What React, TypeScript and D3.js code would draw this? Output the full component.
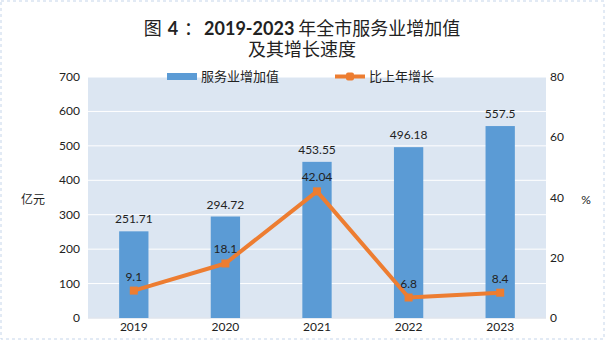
import React from "react";
import * as d3 from "d3";

const categories = ["2019", "2020", "2021", "2022", "2023"];
const valueAdded = [251.71, 294.72, 453.55, 496.18, 557.5];
const growth = [9.1, 18.1, 42.04, 6.8, 8.4];
const leftTicks = [0, 100, 200, 300, 400, 500, 600, 700];
const rightTicks = [0, 20, 40, 60, 80];

const W = 605, H = 340;
const M = { left: 88, right: 546, top: 77, bottom: 318 };
const FONT = "Lato, 'Noto Sans CJK SC', sans-serif";

export default function App() {
  const x = d3.scaleBand<string>().domain(categories).range([M.left, M.right]).paddingInner(0).paddingOuter(0);
  const yL = d3.scaleLinear().domain([0, 700]).range([M.bottom, M.top]);
  const yR = d3.scaleLinear().domain([0, 80]).range([M.bottom, M.top]);
  const bw = x.bandwidth() * 0.32;
  const cx = (c: string) => (x(c) as number) + x.bandwidth() / 2;
  const line = d3.line<number>().x((_, i) => cx(categories[i])).y((d) => yR(d));

  return (
    <svg width={W} height={H} style={{ position: "absolute", left: 0, top: 0, fontFamily: FONT }}>
      <rect x={0} y={0} width={W} height={H} fill="#fff" />
      <rect x={1} y={1} width={W - 2} height={H - 2} fill="none" stroke="#c5d5ea" strokeDasharray="3,3" />
      <text x={302} y={35} textAnchor="middle" fontSize={18} fill="#222">
        <tspan>图</tspan>
        <tspan dx={6} fontWeight="bold">4</tspan>
        <tspan dx={6}>：</tspan>
        <tspan dx={2} fontWeight="bold">2019-2023</tspan>
        <tspan dx={4}>年全市服务业增加值</tspan>
      </text>
      <text x={302} y={56} textAnchor="middle" fontSize={18} fill="#222">
        及其增长速度
      </text>
      <rect x={M.left} y={M.top} width={M.right - M.left} height={M.bottom - M.top} fill="#dce6f2" />
      {leftTicks.map((t) => (
        <line key={t} x1={M.left} x2={M.right} y1={yL(t)} y2={yL(t)} stroke="#fff" strokeWidth={1} />
      ))}
      <line x1={M.left} x2={M.right} y1={M.bottom} y2={M.bottom} stroke="#d0d8e4" />
      {categories.map((c, i) => (
        <g key={c}>
          <rect x={cx(c) - bw / 2} y={yL(valueAdded[i])} width={bw} height={M.bottom - yL(valueAdded[i])} fill="#5b9bd5" />
          <text x={cx(c)} y={yL(valueAdded[i]) - 8} textAnchor="middle" fontSize={12} fill="#222">
            {valueAdded[i]}
          </text>
          <text x={cx(c)} y={331} textAnchor="middle" fontSize={12} fill="#222">{c}</text>
        </g>
      ))}
      <path d={line(growth) || ""} fill="none" stroke="#ed7d31" strokeWidth={4} strokeLinejoin="round" />
      {growth.map((g, i) => (
        <g key={i}>
          <rect x={cx(categories[i]) - 4} y={yR(g) - 4} width={8} height={8} fill="#ed7d31" />
          <text x={cx(categories[i])} y={yR(g) - 10} textAnchor="middle" fontSize={12} fill="#222">{g}</text>
        </g>
      ))}
      {leftTicks.map((t) => (
        <text key={t} x={80} y={yL(t) + 4} textAnchor="end" fontSize={12} fill="#222">{t}</text>
      ))}
      {rightTicks.map((t) => (
        <text key={t} x={550} y={yR(t) + 4} textAnchor="start" fontSize={12} fill="#222">{t}</text>
      ))}
      <text x={33} y={204} textAnchor="middle" fontSize={12} fill="#222">亿元</text>
      <text x={586} y={204} textAnchor="middle" fontSize={12} fill="#222">%</text>
      <rect x={167} y={73} width={30} height={7} fill="#5b9bd5" />
      <text x={201} y={81} fontSize={13} fill="#222">服务业增加值</text>
      <line x1={335} x2={365} y1={76.5} y2={76.5} stroke="#ed7d31" strokeWidth={4} />
      <rect x={346} y={72.5} width={8} height={8} rx={2} fill="#ed7d31" />
      <text x={369} y={81} fontSize={13} fill="#222">比上年增长</text>
    </svg>
  );
}
